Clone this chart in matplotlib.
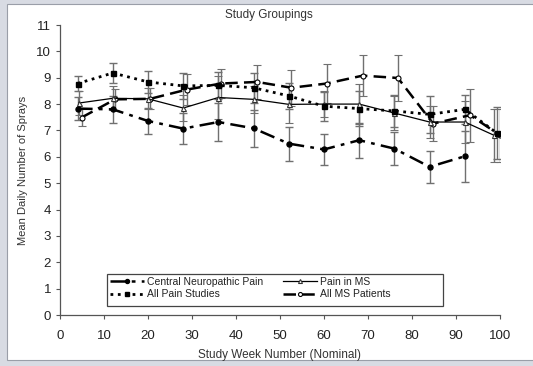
import numpy as np
import matplotlib.pyplot as plt
from matplotlib.patches import Rectangle

plt.rcParams['font.family'] = ['Liberation Sans', 'DejaVu Sans']

# Central Neuropathic Pain (pas de point en semaine 99)
cnp_x = [4, 12, 20, 28, 36, 44, 52, 60, 68, 76, 84, 92]
cnp_y = [7.83, 7.80, 7.36, 7.07, 7.32, 7.08, 6.50, 6.28, 6.63, 6.31, 5.62, 6.02]
cnp_e = [0.45, 0.50, 0.48, 0.60, 0.72, 0.70, 0.65, 0.60, 0.67, 0.62, 0.60, 0.96]

# Pain in MS
pms_x = [4.3, 12, 20, 28, 36, 44, 52, 60, 68, 76, 84, 92, 98.6]
pms_y = [8.04, 8.22, 8.20, 7.85, 8.25, 8.18, 7.99, 8.00, 8.00, 7.66, 7.32, 7.32, 6.82]
pms_e = [0.45, 0.45, 0.40, 0.50, 0.80, 0.50, 0.70, 0.50, 0.75, 0.65, 0.60, 0.80, 1.00]

# All Pain Studies
aps_x = [4, 12, 20, 28, 36, 44, 52, 60, 68, 76, 84, 92, 99.3]
aps_y = [8.78, 9.18, 8.84, 8.69, 8.71, 8.62, 8.31, 7.92, 7.83, 7.74, 7.61, 7.80, 6.90]
aps_e = [0.27, 0.38, 0.42, 0.50, 0.50, 0.57, 0.50, 0.55, 0.65, 0.60, 0.70, 0.55, 1.00]

# All MS Patients
ams_x = [4.9, 12.5, 20.5, 28.8, 36.6, 44.8, 52.6, 60.6, 68.8, 76.8, 84.8, 93.2, 100]
ams_y = [7.49, 8.18, 8.20, 8.55, 8.78, 8.84, 8.62, 8.78, 9.08, 8.99, 7.26, 7.58, 6.82]
ams_e = [0.33, 0.40, 0.40, 0.60, 0.56, 0.65, 0.68, 0.73, 0.77, 0.86, 0.67, 1.00, 1.00]

fig = plt.figure(figsize=(5.33, 3.66), dpi=100, facecolor='#d8dbe3')
fig.patches.append(Rectangle((7/533, 6/366), 1, 356/366, transform=fig.transFigure,
                             facecolor='white', edgecolor='#9a9ea8', lw=0.8,
                             zorder=-10))
ax = fig.add_axes([60/533, 51/366, 440/533, 290/366])
ax.set_facecolor('none')

ecol = '#707070'
kw = dict(ecolor=ecol, elinewidth=1.0, capsize=3, capthick=1.0, color='black',
          markersize=3.6)

e_ams = ax.errorbar(ams_x, ams_y, yerr=ams_e, fmt='--o', lw=1.8, markerfacecolor='white',
                    markeredgecolor='black', markeredgewidth=0.8, dashes=(5, 2.5), **kw)
e_pms = ax.errorbar(pms_x, pms_y, yerr=pms_e, fmt='-^', lw=0.9, markerfacecolor='white',
                    markeredgecolor='#333333', markeredgewidth=0.8, **kw)
e_aps = ax.errorbar(aps_x, aps_y, yerr=aps_e, fmt=':s', lw=2.0, **kw)
e_cnp = ax.errorbar(cnp_x, cnp_y, yerr=cnp_e, fmt='-.o', lw=1.8,
                    dashes=(6, 2.5, 1.5, 2.5), **kw)

ax.set_xlim(0, 100)
ax.set_ylim(0, 11)
ax.set_xticks(range(0, 101, 10))
ax.set_yticks(range(0, 12))
for s in ['top', 'right']:
    ax.spines[s].set_visible(False)
for s in ['left', 'bottom']:
    ax.spines[s].set_color('#555555')
    ax.spines[s].set_linewidth(0.9)
ax.tick_params(length=3, width=0.8, color='#555555', labelsize=9.5, labelcolor='#222222')
ax.tick_params(axis='x', pad=8)

ax.set_xlabel('Study Week Number (Nominal)', fontsize=8.5, color='#333333', labelpad=5)
ax.set_ylabel('Mean Daily Number of Sprays', fontsize=8, color='#333333', labelpad=6)
ax.set_title('Study Groupings', fontsize=8.5, color='#333333', pad=5,
             x=(269 - 60) / 440)

# cadre de la légende
ax.add_patch(Rectangle((47/440, 9/290), 336/440, 32/290, transform=ax.transAxes,
                       facecolor='white', edgecolor='#444444', lw=0.9, zorder=5))
handles = [e_cnp[0], e_aps[0], e_pms[0], e_ams[0]]
labels = ['Central Neuropathic Pain', 'All Pain Studies', 'Pain in MS', 'All MS Patients']
leg = ax.legend(handles, labels, ncol=2, loc='upper left',
                bbox_to_anchor=(48/440, 40/290), fontsize=7.5, frameon=False,
                handlelength=3.3, handletextpad=0.3, borderpad=0.15, markerscale=0.8,
                labelspacing=0.25, columnspacing=1.9, borderaxespad=0)
leg.set_zorder(6)
for t in leg.get_texts():
    t.set_color('#222222')

fig.savefig('out.png', dpi=100, facecolor=fig.get_facecolor())
